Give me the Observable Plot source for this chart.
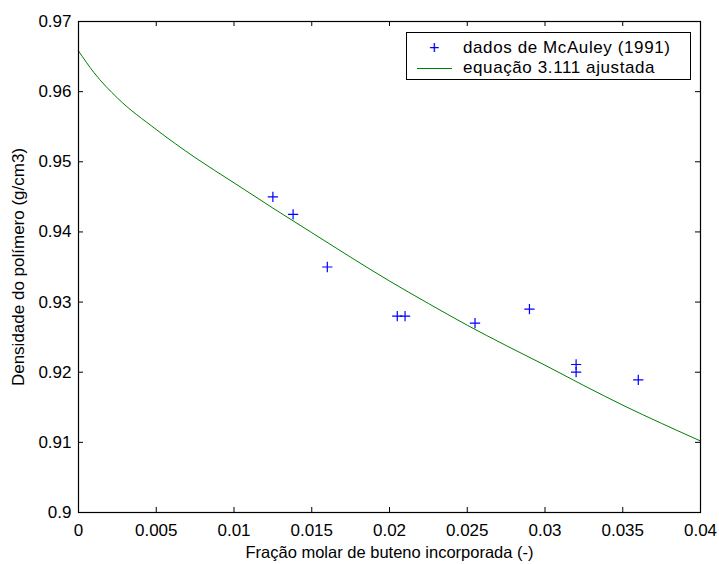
<!DOCTYPE html>
<html>
<head>
<meta charset="utf-8">
<script src="https://cdn.jsdelivr.net/npm/d3@7"></script>
<script src="https://cdn.jsdelivr.net/npm/@observablehq/plot@0.6"></script>
<style>
  html, body { margin: 0; padding: 0; background: #fff; }
  #wrap { position: relative; width: 719px; height: 564px; font-family: Arial, "Liberation Sans", sans-serif; }
  #legend { position: absolute; left: 406px; top: 32px; width: 283px; height: 46px; border: 1px solid #000; background: #fff; font-size: 17px; }
  .row { position: absolute; left: 0; height: 20px; line-height: 20px; white-space: nowrap; }
  .lbl { position: absolute; left: 56px; letter-spacing: 0.6px; }
</style>
</head>
<body>
<div id="wrap"></div>
<script>
// Experimental data: dados de McAuley (1991)
const dataX = [0.0125, 0.0138, 0.0160, 0.0205, 0.0210, 0.0255, 0.0290, 0.0320, 0.0320, 0.0360];
const dataY = [0.9450, 0.9425, 0.9350, 0.9280, 0.9280, 0.9270, 0.9290, 0.9211, 0.9200, 0.9189];
// Fitted curve: equação 3.111 ajustada
const fitX = [0, 0.001, 0.0025, 0.005, 0.0075, 0.01, 0.0125, 0.015, 0.0175, 0.02, 0.0225, 0.025, 0.0275, 0.03, 0.0325, 0.035, 0.0375, 0.04];
const fitY = [0.9658, 0.9627, 0.9591, 0.9546, 0.9506, 0.9470, 0.9434, 0.9399, 0.9364, 0.9330, 0.9298, 0.9267, 0.9238, 0.9210, 0.9181, 0.9153, 0.9127, 0.9102];
// Ticks
const xTicks = [0, 0.005, 0.01, 0.015, 0.02, 0.025, 0.03, 0.035, 0.04];
const xTickLabels = ["0", "0.005", "0.01", "0.015", "0.02", "0.025", "0.03", "0.035", "0.04"];
const yTicks = [0.9, 0.91, 0.92, 0.93, 0.94, 0.95, 0.96, 0.97];
const yTickLabels = ["0.9", "0.91", "0.92", "0.93", "0.94", "0.95", "0.96", "0.97"];
const xTitle = "Fração molar de buteno incorporada (-)";
const yTitle = "Densidade do polímero (g/cm3)";
const seriesNames = ["dados de McAuley (1991)", "equação 3.111 ajustada"];

const points = dataX.map((x, i) => ({x, y: dataY[i]}));
const fit = fitX.map((x, i) => ({x, y: fitY[i]}));

const W = 719, H = 564, mL = 78, mR = 19, mT = 21, mB = 52;
const innerH = H - mT - mB, innerW = W - mL - mR;
const tickLen = 5;

const chart = Plot.plot({
  width: W, height: H,
  marginLeft: mL, marginRight: mR, marginTop: mT, marginBottom: mB,
  style: {fontFamily: "Arial, 'Liberation Sans', sans-serif", fontSize: "17px", color: "#000", background: "#fff"},
  x: {domain: [0, 0.04]},
  y: {domain: [0.9, 0.97]},
  marks: [
    // inward ticks
    Plot.tickX(xTicks, {x: d => d, insetTop: innerH - tickLen, stroke: "#000", strokeWidth: 1}),
    Plot.tickX(xTicks, {x: d => d, insetBottom: innerH - tickLen, stroke: "#000", strokeWidth: 1}),
    Plot.tickY(yTicks, {y: d => d, insetRight: innerW - tickLen, stroke: "#000", strokeWidth: 1}),
    Plot.tickY(yTicks, {y: d => d, insetLeft: innerW - tickLen, stroke: "#000", strokeWidth: 1}),
    Plot.axisX({ticks: xTicks, tickSize: 0, tickPadding: 11, tickFormat: d => xTickLabels[xTicks.indexOf(d)], label: null, fontSize: 17}),
    Plot.axisY({ticks: yTicks, tickSize: 0, tickPadding: 7, tickFormat: d => yTickLabels[yTicks.findIndex(t => Math.abs(t - d) < 1e-9)], label: null, fontSize: 17}),
    Plot.text([xTitle], {frameAnchor: "bottom", dy: 45, text: d => d, fontSize: 16.5, textAnchor: "middle"}),
    Plot.text([yTitle], {frameAnchor: "left", dx: -60, rotate: -90, text: d => d, fontSize: 17, textAnchor: "middle"}),
    Plot.line(fit, {x: "x", y: "y", stroke: "#008000", strokeWidth: 1, curve: "monotone-x"}),
    Plot.dot(points, {x: "x", y: "y", symbol: "plus", r: 3.4, stroke: "#0000ff", strokeWidth: 1.2}),
    Plot.frame({stroke: "#000", strokeWidth: 1.2})
  ]
});
const wrap = document.getElementById("wrap");
wrap.appendChild(chart);

// Legend (inside the frame, top right)
const legend = document.createElement("div");
legend.id = "legend";
legend.innerHTML = `
  <div class="row" style="top:5px;width:100%">
    <span style="position:absolute;left:22px;top:0;color:#0000ff;font-size:18px;">+</span>
    <span class="lbl">${seriesNames[0]}</span>
  </div>
  <div class="row" style="top:25px;width:100%">
    <span style="position:absolute;left:10px;top:10px;width:35px;height:0;border-top:1.2px solid #008000;"></span>
    <span class="lbl">${seriesNames[1]}</span>
  </div>`;
wrap.appendChild(legend);
</script>
</body>
</html>
